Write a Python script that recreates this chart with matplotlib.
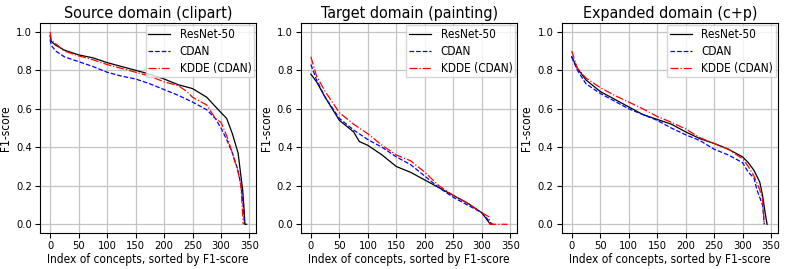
import matplotlib.pyplot as plt

################################################################################################
# Values read from the reference (F1-score at sampled concept indices).

SRC_RES_X = [0, 2, 10, 25, 50, 75, 100, 125, 150, 175, 200, 225, 250, 275, 300, 310, 320, 330, 335, 338, 340, 342, 345]
SRC_RES_Y = [0.98, 0.95, 0.93, 0.905, 0.88, 0.865, 0.84, 0.82, 0.80, 0.78, 0.755, 0.725, 0.705, 0.66, 0.58, 0.55, 0.47, 0.37, 0.25, 0.18, 0.10, 0.0, 0.0]
SRC_CDAN_X = [0, 2, 10, 25, 50, 75, 100, 125, 150, 175, 200, 225, 250, 275, 290, 300, 310, 320, 330, 335, 340, 341]
SRC_CDAN_Y = [0.96, 0.93, 0.90, 0.87, 0.845, 0.82, 0.79, 0.77, 0.755, 0.73, 0.70, 0.67, 0.635, 0.595, 0.55, 0.50, 0.44, 0.37, 0.28, 0.20, 0.07, 0.0]
SRC_KDDE_X = [0, 2, 5, 25, 50, 75, 100, 125, 150, 175, 200, 225, 240, 250, 275, 290, 300, 310, 320, 330, 335, 339]
SRC_KDDE_Y = [1.0, 0.96, 0.95, 0.90, 0.875, 0.855, 0.83, 0.81, 0.79, 0.77, 0.74, 0.72, 0.69, 0.66, 0.62, 0.55, 0.53, 0.46, 0.37, 0.27, 0.20, 0.0]

TGT_RES_X = [0, 10, 25, 50, 75, 85, 100, 125, 150, 175, 200, 225, 250, 275, 300, 315, 320]
TGT_RES_Y = [0.78, 0.74, 0.66, 0.54, 0.48, 0.43, 0.41, 0.36, 0.30, 0.27, 0.23, 0.19, 0.15, 0.11, 0.06, 0.0, 0.0]
TGT_CDAN_X = [0, 10, 25, 50, 75, 100, 125, 150, 175, 200, 225, 250, 275, 300, 318]
TGT_CDAN_Y = [0.83, 0.75, 0.66, 0.55, 0.49, 0.44, 0.40, 0.35, 0.31, 0.25, 0.19, 0.14, 0.10, 0.06, 0.0]
TGT_KDDE_X = [0, 10, 25, 50, 75, 100, 125, 150, 175, 200, 225, 250, 275, 300, 312, 315, 345]
TGT_KDDE_Y = [0.87, 0.77, 0.69, 0.58, 0.52, 0.47, 0.41, 0.36, 0.33, 0.27, 0.20, 0.15, 0.11, 0.06, 0.04, 0.0, 0.0]

EXP_RES_X = [0, 10, 25, 50, 75, 100, 125, 150, 175, 200, 225, 250, 275, 300, 310, 320, 330, 335, 340, 343]
EXP_RES_Y = [0.87, 0.81, 0.75, 0.69, 0.65, 0.61, 0.57, 0.545, 0.52, 0.48, 0.445, 0.42, 0.39, 0.35, 0.32, 0.28, 0.22, 0.15, 0.05, 0.0]
EXP_CDAN_X = [0, 10, 25, 50, 75, 100, 125, 150, 175, 200, 225, 250, 275, 300, 310, 320, 325, 330, 335, 338]
EXP_CDAN_Y = [0.87, 0.80, 0.73, 0.68, 0.64, 0.60, 0.57, 0.54, 0.50, 0.465, 0.435, 0.39, 0.36, 0.32, 0.27, 0.24, 0.18, 0.14, 0.10, 0.0]
EXP_KDDE_X = [0, 10, 25, 50, 75, 100, 125, 150, 175, 200, 225, 250, 275, 300, 310, 320, 330, 335, 338]
EXP_KDDE_Y = [0.90, 0.81, 0.76, 0.71, 0.67, 0.635, 0.60, 0.56, 0.53, 0.495, 0.45, 0.42, 0.39, 0.34, 0.30, 0.25, 0.18, 0.13, 0.0]

TITLES = ["Source domain (clipart)", "Target domain (painting)", "Expanded domain (c+p)"]
LABELS = ["ResNet-50", "CDAN", "KDDE (CDAN)"]

################################################################################################

plt.rcParams["font.family"] = ["DejaVu Sans"]
plt.rcParams["font.stretch"] = "condensed"

panels = [
	[(SRC_RES_X, SRC_RES_Y), (SRC_CDAN_X, SRC_CDAN_Y), (SRC_KDDE_X, SRC_KDDE_Y)],
	[(TGT_RES_X, TGT_RES_Y), (TGT_CDAN_X, TGT_CDAN_Y), (TGT_KDDE_X, TGT_KDDE_Y)],
	[(EXP_RES_X, EXP_RES_Y), (EXP_CDAN_X, EXP_CDAN_Y), (EXP_KDDE_X, EXP_KDDE_Y)],
]
styles = [
	{"color": "black", "linestyle": "-"},
	{"color": "blue", "linestyle": "--"},
	{"color": "red", "linestyle": "-."},
]

fig, axes = plt.subplots(1, 3, figsize=(7.89, 2.69), dpi=100)
fig.subplots_adjust(left=0.051, right=0.986, top=0.914, bottom=0.134, wspace=0.207)

for ax, title, series in zip(axes, TITLES, panels):
	for (xs, ys), label, style in zip(series, LABELS, styles):
		ax.plot(xs, ys, linewidth=0.9, label=label, **style)
	ax.set_title(title, fontsize=11.5, pad=4)
	ax.set_xlabel("Index of concepts, sorted by F1-score", fontsize=8.6, labelpad=1)
	ax.set_ylabel("F1-score", fontsize=8.6, labelpad=3)
	ax.set_xlim(-17.25, 362)
	ax.set_ylim(-0.045, 1.045)
	ax.set_xticks([0, 50, 100, 150, 200, 250, 300, 350])
	ax.set_yticks([0.0, 0.2, 0.4, 0.6, 0.8, 1.0])
	ax.tick_params(labelsize=8, length=3.5, pad=2.5)
	ax.grid(True, color="#c4c4c4", linewidth=0.9)
	ax.legend(loc="upper right", fontsize=8.5, borderpad=0.2, borderaxespad=0.2,
			handlelength=1.9, handletextpad=0.8, labelspacing=0.35, fancybox=False)

plt.savefig("out.png")
